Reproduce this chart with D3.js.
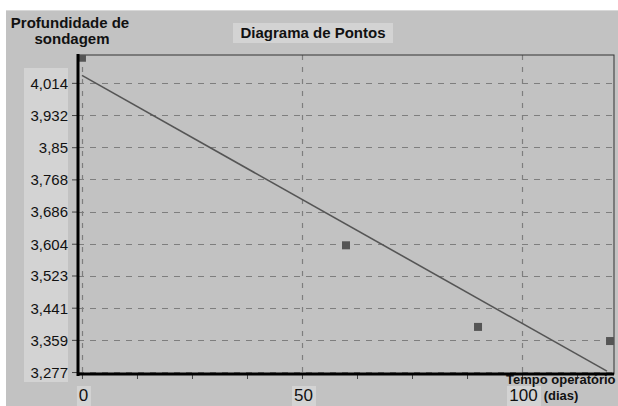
<!DOCTYPE html>
<html>
<head>
<meta charset="utf-8">
<script src="https://cdn.jsdelivr.net/npm/d3@7"></script>
<style>
  body { margin: 0; background: #fff; }
  text { font-family: "Liberation Sans", Arial, sans-serif; fill: #111; }
</style>
</head>
<body>
<div id="chart-area"></div>
<script>
// Data
var tempo = [0, 60, 90, 120];
var profundidade = [4.078, 3.600, 3.392, 3.356];
var yTicks = [4.014, 3.932, 3.85, 3.768, 3.686, 3.604, 3.523, 3.441, 3.359, 3.277];
var yTickLabels = ["4,014", "3,932", "3,85", "3,768", "3,686", "3,604", "3,523", "3,441", "3,359", "3,277"];
var xTicks = [0, 50, 100];
var xMinorTicks = [12.5, 25, 37.5, 62.5, 75, 87.5, 112.5];

var width = 618, height = 406;
var plot = {left: 78, right: 614, top: 55, bottom: 374};

var svg = d3.select("#chart-area").append("svg").attr("width", width).attr("height", height);

// panel
svg.append("rect").attr("x", 6).attr("y", 10).attr("width", width - 6).attr("height", height - 10).attr("fill", "#c2c2c2");
svg.append("line").attr("x1", 6).attr("x2", width).attr("y1", 10.5).attr("y2", 10.5).attr("stroke", "#d8d8d8");

// Scales
var x = d3.scaleLinear().domain([-0.9, 120.9]).range([plot.left, plot.right]);
var y = d3.scaleLinear().domain([3.272, 4.085]).range([plot.bottom, plot.top]);

// label boxes
svg.append("rect").attr("x", 24).attr("y", 68).attr("width", 44).attr("height", 314).attr("fill", "#d3d3d3");
svg.append("rect").attr("x", 233).attr("y", 23).attr("width", 160).attr("height", 20).attr("fill", "#d3d3d3");
xTicks.forEach(function(t) {
  var w = String(t).length * 10 + 4;
  svg.append("rect").attr("x", x(t) - 5 - (w - 14) / 2).attr("y", 386).attr("width", w).attr("height", 20).attr("fill", "#d3d3d3");
});

var g = svg.append("g");

// grid
g.selectAll(".hgrid").data(yTicks).enter().append("line").attr("class", "hgrid")
  .attr("x1", plot.left).attr("x2", plot.right)
  .attr("y1", function(d) { return Math.round(y(d)) + 0.5; }).attr("y2", function(d) { return Math.round(y(d)) + 0.5; })
  .attr("stroke", "#7e7e7e").attr("stroke-width", 1.2).attr("stroke-dasharray", "6,6");

g.selectAll(".vgrid").data(xTicks).enter().append("line").attr("class", "vgrid")
  .attr("x1", function(d) { return Math.round(x(d)) + 0.5; }).attr("x2", function(d) { return Math.round(x(d)) + 0.5; })
  .attr("y1", plot.top).attr("y2", plot.bottom)
  .attr("stroke", "#7e7e7e").attr("stroke-width", 1.2).attr("stroke-dasharray", "5,7");

// border
g.append("rect").attr("x", plot.left).attr("y", plot.top).attr("width", plot.right - plot.left).attr("height", plot.bottom - plot.top)
  .attr("fill", "none").attr("stroke", "#333").attr("stroke-width", 1);

// trend line (least squares over the points)
var mx = d3.mean(tempo), my = d3.mean(profundidade);
var sxy = d3.sum(tempo, function(t, i) { return (t - mx) * (profundidade[i] - my); });
var sxx = d3.sum(tempo, function(t) { return (t - mx) * (t - mx); });
var slope = sxy / sxx, intercept = my - slope * mx;
var lineX = [0, 119.3];
g.append("path")
  .attr("d", d3.line().x(function(d) { return x(d); }).y(function(d) { return y(intercept + slope * d); })(lineX))
  .attr("fill", "none").attr("stroke", "#555").attr("stroke-width", 1.6);

// points
var clip = svg.append("clipPath").attr("id", "clip").append("rect")
  .attr("x", plot.left).attr("y", plot.top).attr("width", plot.right - plot.left).attr("height", plot.bottom - plot.top);
g.append("g").attr("clip-path", "url(#clip)").selectAll("rect.pt").data(tempo).enter().append("rect").attr("class", "pt")
  .attr("x", function(d) { return x(d) - 4; })
  .attr("y", function(d, i) { return y(profundidade[i]) - 4; })
  .attr("width", 8).attr("height", 8).attr("fill", "#555");

// Axis
var yAxisGroup = g.append("g").attr("transform", "translate(" + plot.left + ",0)")
  .call(d3.axisLeft(y).tickValues(yTicks).tickSize(6).tickFormat(function(d, i) { return yTickLabels[i]; }));
yAxisGroup.select(".domain").remove();
yAxisGroup.selectAll("line").attr("stroke", "#444");
yAxisGroup.selectAll("text").attr("x", -10).attr("dy", "0.36em").attr("font-size", "15px")
  .style("font-family", "Liberation Sans, Arial, sans-serif").attr("fill", "#111");

var xAxisGroup = g.append("g").attr("transform", "translate(0," + plot.bottom + ")")
  .call(d3.axisBottom(x).tickValues(xTicks.concat(xMinorTicks)).tickSize(5).tickFormat(function(d) { return xTicks.indexOf(d) >= 0 ? d : ""; }));
xAxisGroup.select(".domain").remove();
xAxisGroup.selectAll("line").attr("stroke", "#444");
xAxisGroup.selectAll("text").attr("x", 1).attr("y", 27).attr("dy", "0").attr("font-size", "17px")
  .style("font-family", "Liberation Sans, Arial, sans-serif").attr("fill", "#111");

g.append("line").attr("x1", plot.left).attr("x2", plot.left).attr("y1", plot.top - 1).attr("y2", plot.bottom + 2)
  .attr("stroke", "#000").attr("stroke-width", 3);
g.append("line").attr("x1", plot.left - 1).attr("x2", plot.right).attr("y1", plot.bottom).attr("y2", plot.bottom)
  .attr("stroke", "#000").attr("stroke-width", 3);

// Labels
svg.append("text").attr("x", 313).attr("y", 38).attr("text-anchor", "middle").attr("font-size", "15px").attr("font-weight", "bold")
  .text("Diagrama de Pontos");
svg.append("text").attr("x", 70).attr("y", 28).attr("text-anchor", "middle").attr("font-size", "15px").attr("font-weight", "bold")
  .text("Profundidade de");
svg.append("text").attr("x", 72).attr("y", 44).attr("text-anchor", "middle").attr("font-size", "15px").attr("font-weight", "bold")
  .text("sondagem");
svg.append("text").attr("x", 506).attr("y", 384).attr("font-size", "13px").attr("font-weight", "bold")
  .text("Tempo operatório");
svg.append("text").attr("x", 561).attr("y", 400).attr("text-anchor", "middle").attr("font-size", "13px").attr("font-weight", "bold")
  .text("(dias)");
</script>
</body>
</html>
